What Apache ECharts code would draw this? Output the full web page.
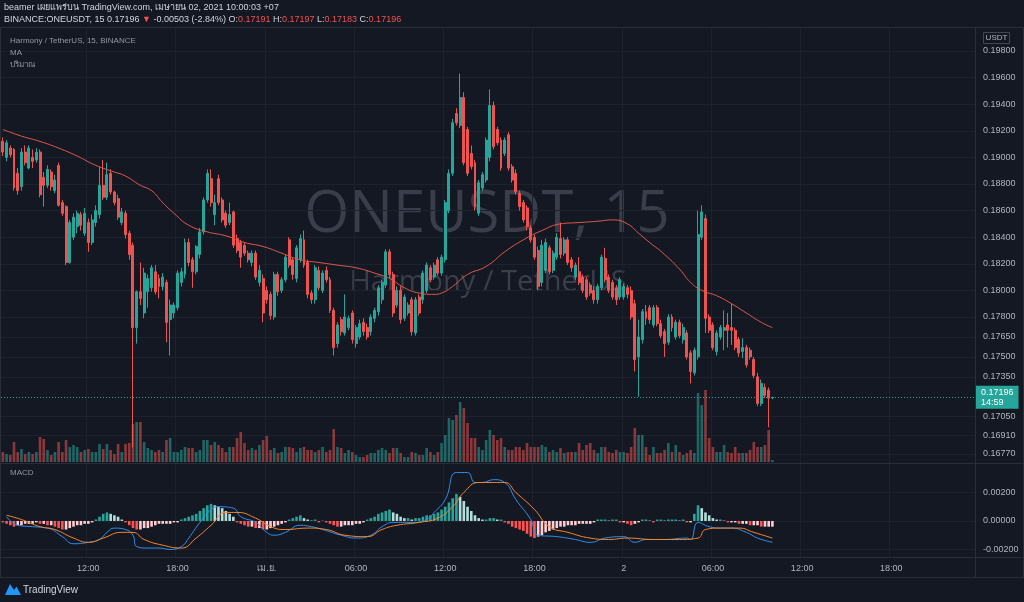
<!DOCTYPE html>
<html><head><meta charset="utf-8">
<script src="https://cdn.jsdelivr.net/npm/echarts@6/dist/echarts.min.js"></script>
<style>html,body{margin:0;padding:0;background:#141823;}#c{width:1024px;height:602px;}</style>
</head><body><div id="c"></div>
<script>
// ---------- DATA ----------
// 15-minute slots starting 2021-03-31 06:15 (UTC+7 exchange display time)
const slotStartUTC = Date.UTC(2021, 2, 31, 6, 15);
const slotCount = 262;
const timeLabels = {
  '03-31 12:00': '12:00', '03-31 18:00': '18:00', '04-01 00:00': 'เม.ย.',
  '04-01 06:00': '06:00', '04-01 12:00': '12:00', '04-01 18:00': '18:00',
  '04-02 00:00': '2', '04-02 06:00': '06:00', '04-02 12:00': '12:00', '04-02 18:00': '18:00'
};
// [open, close, low, high]
const ohlc = [
[0.1912,0.1904,0.1901,0.1915],[0.1900,0.1911,0.1897,0.1913],[0.1907,0.1902,0.1900,0.1909],[0.1906,0.1877,0.1875,0.1907],
[0.1888,0.1875,0.1872,0.1892],[0.1878,0.1904,0.1875,0.1907],[0.1904,0.1896,0.1894,0.1909],[0.1892,0.1907,0.1891,0.1909],
[0.1900,0.1897,0.1892,0.1906],[0.1898,0.1904,0.1896,0.1907],[0.1904,0.1872,0.1870,0.1906],[0.1885,0.1879,0.1863,0.1889],
[0.1879,0.1891,0.1877,0.1894],[0.1889,0.1878,0.1875,0.1891],[0.1875,0.1883,0.1873,0.1887],[0.1894,0.1864,0.1863,0.1896],
[0.1866,0.1858,0.1856,0.1868],[0.1863,0.1821,0.1819,0.1864],[0.1821,0.1851,0.1820,0.1853],[0.1840,0.1855,0.1838,0.1858],
[0.1848,0.1858,0.1843,0.1860],[0.1857,0.1849,0.1845,0.1859],[0.1843,0.1858,0.1841,0.1862],[0.1851,0.1836,0.1829,0.1854],
[0.1836,0.1853,0.1834,0.1857],[0.1851,0.1860,0.1848,0.1864],[0.1857,0.1879,0.1854,0.1893],[0.1879,0.1870,0.1868,0.1898],
[0.1870,0.1887,0.1868,0.1896],[0.1888,0.1874,0.1872,0.1891],[0.1874,0.1866,0.1864,0.1875],[0.1869,0.1855,0.1853,0.1872],
[0.1851,0.1859,0.1849,0.1862],[0.1858,0.1842,0.1839,0.1860],[0.1843,0.1827,0.1823,0.1845],[0.1834,0.1772,0.1682,0.1836],
[0.1772,0.1799,0.1760,0.1800],[0.1799,0.1794,0.1789,0.1821],[0.1783,0.1813,0.1779,0.1817],[0.1799,0.1809,0.1787,0.1812],
[0.1802,0.1817,0.1799,0.1819],[0.1814,0.1799,0.1797,0.1819],[0.1809,0.1803,0.1794,0.1812],[0.1803,0.1810,0.1800,0.1813],
[0.1806,0.1776,0.1761,0.1808],[0.1778,0.1789,0.1751,0.1793],[0.1783,0.1789,0.1779,0.1791],[0.1787,0.1813,0.1785,0.1815],
[0.1806,0.1814,0.1803,0.1817],[0.1812,0.1836,0.1809,0.1839],[0.1836,0.1821,0.1818,0.1839],[0.1823,0.1814,0.1802,0.1825],
[0.1814,0.1833,0.1812,0.1834],[0.1827,0.1844,0.1824,0.1847],[0.1844,0.1868,0.1842,0.1870],[0.1868,0.1888,0.1866,0.1891],
[0.1884,0.1866,0.1863,0.1891],[0.1857,0.1866,0.1849,0.1872],[0.1884,0.1866,0.1864,0.1887],[0.1868,0.1853,0.1851,0.1870],
[0.1858,0.1849,0.1847,0.1860],[0.1851,0.1857,0.1849,0.1866],[0.1859,0.1834,0.1832,0.1860],[0.1839,0.1830,0.1828,0.1842],
[0.1836,0.1825,0.1817,0.1838],[0.1834,0.1828,0.1826,0.1836],[0.1828,0.1823,0.1821,0.1830],[0.1821,0.1828,0.1818,0.1830],
[0.1828,0.1810,0.1808,0.1830],[0.1806,0.1815,0.1803,0.1819],[0.1809,0.1783,0.1776,0.1812],[0.1800,0.1793,0.1790,0.1803],
[0.1797,0.1781,0.1778,0.1799],[0.1780,0.1812,0.1778,0.1814],[0.1812,0.1799,0.1796,0.1814],[0.1800,0.1808,0.1798,0.1810],
[0.1808,0.1825,0.1806,0.1827],[0.1838,0.1819,0.1817,0.1840],[0.1823,0.1812,0.1808,0.1825],[0.1809,0.1832,0.1806,0.1834],
[0.1823,0.1839,0.1821,0.1842],[0.1838,0.1819,0.1817,0.1845],[0.1821,0.1797,0.1794,0.1823],[0.1798,0.1793,0.1790,0.1800],
[0.1793,0.1817,0.1790,0.1819],[0.1815,0.1802,0.1800,0.1818],[0.1800,0.1813,0.1798,0.1815],[0.1815,0.1808,0.1806,0.1818],
[0.1808,0.1785,0.1783,0.1810],[0.1785,0.1757,0.1751,0.1787],[0.1760,0.1774,0.1757,0.1776],[0.1778,0.1769,0.1766,0.1780],
[0.1768,0.1780,0.1766,0.1797],[0.1772,0.1779,0.1770,0.1781],[0.1783,0.1763,0.1760,0.1785],[0.1760,0.1772,0.1757,0.1774],
[0.1765,0.1775,0.1763,0.1778],[0.1776,0.1769,0.1766,0.1779],[0.1772,0.1765,0.1763,0.1775],[0.1769,0.1780,0.1766,0.1782],
[0.1779,0.1785,0.1776,0.1787],[0.1784,0.1802,0.1781,0.1804],[0.1793,0.1806,0.1790,0.1808],[0.1804,0.1829,0.1802,0.1831],
[0.1829,0.1812,0.1809,0.1831],[0.1812,0.1783,0.1780,0.1814],[0.1789,0.1800,0.1787,0.1803],[0.1800,0.1778,0.1775,0.1803],
[0.1779,0.1795,0.1777,0.1797],[0.1783,0.1789,0.1781,0.1791],[0.1793,0.1769,0.1766,0.1795],[0.1768,0.1793,0.1766,0.1795],
[0.1795,0.1783,0.1781,0.1797],[0.1793,0.1813,0.1790,0.1815],[0.1800,0.1819,0.1798,0.1821],[0.1817,0.1808,0.1806,0.1819],
[0.1810,0.1819,0.1808,0.1821],[0.1823,0.1813,0.1811,0.1825],[0.1813,0.1825,0.1811,0.1827],[0.1823,0.1866,0.1821,0.1868],
[0.1860,0.1888,0.1858,0.1891],[0.1888,0.1926,0.1886,0.1929],[0.1933,0.1926,0.1924,0.1937],[0.1924,0.1945,0.1922,0.1963],
[0.1945,0.1896,0.1894,0.1949],[0.1921,0.1888,0.1886,0.1923],[0.1903,0.1893,0.1891,0.1909],[0.1896,0.1863,0.1860,0.1898],
[0.1858,0.1881,0.1856,0.1883],[0.1877,0.1887,0.1875,0.1889],[0.1883,0.1913,0.1881,0.1915],[0.1900,0.1939,0.1897,0.1951],
[0.1939,0.1908,0.1906,0.1942],[0.1921,0.1911,0.1909,0.1923],[0.1913,0.1892,0.1890,0.1915],[0.1903,0.1913,0.1901,0.1915],
[0.1917,0.1892,0.1890,0.1919],[0.1893,0.1883,0.1881,0.1895],[0.1888,0.1874,0.1872,0.1891],[0.1873,0.1863,0.1860,0.1875],
[0.1866,0.1853,0.1851,0.1868],[0.1862,0.1848,0.1845,0.1864],[0.1847,0.1838,0.1836,0.1849],[0.1840,0.1825,0.1823,0.1842],
[0.1830,0.1803,0.1800,0.1833],[0.1806,0.1834,0.1803,0.1838],[0.1815,0.1836,0.1813,0.1839],[0.1832,0.1814,0.1812,0.1834],
[0.1815,0.1828,0.1813,0.1830],[0.1825,0.1840,0.1823,0.1843],[0.1839,0.1827,0.1824,0.1851],[0.1828,0.1838,0.1826,0.1840],
[0.1838,0.1821,0.1819,0.1840],[0.1823,0.1817,0.1814,0.1825],[0.1810,0.1819,0.1808,0.1821],[0.1814,0.1806,0.1804,0.1825],
[0.1810,0.1800,0.1798,0.1812],[0.1808,0.1795,0.1793,0.1810],[0.1804,0.1798,0.1796,0.1806],[0.1800,0.1793,0.1790,0.1803],
[0.1793,0.1803,0.1790,0.1805],[0.1802,0.1825,0.1800,0.1827],[0.1824,0.1808,0.1806,0.1832],[0.1810,0.1800,0.1798,0.1812],
[0.1806,0.1795,0.1793,0.1808],[0.1802,0.1793,0.1789,0.1804],[0.1795,0.1808,0.1793,0.1810],[0.1795,0.1803,0.1793,0.1805],
[0.1802,0.1797,0.1794,0.1804],[0.1800,0.1780,0.1778,0.1803],[0.1790,0.1748,0.1739,0.1793],[0.1750,0.1765,0.1720,0.1778],
[0.1763,0.1784,0.1760,0.1786],[0.1784,0.1779,0.1774,0.1789],[0.1787,0.1778,0.1775,0.1789],[0.1774,0.1787,0.1772,0.1789],
[0.1787,0.1775,0.1773,0.1789],[0.1775,0.1766,0.1764,0.1778],[0.1769,0.1760,0.1750,0.1771],[0.1761,0.1780,0.1759,0.1782],
[0.1780,0.1772,0.1769,0.1782],[0.1765,0.1776,0.1763,0.1778],[0.1776,0.1766,0.1764,0.1778],[0.1763,0.1772,0.1760,0.1775],
[0.1768,0.1750,0.1748,0.1770],[0.1753,0.1739,0.1730,0.1755],[0.1738,0.1755,0.1736,0.1757],[0.1750,0.1842,0.1748,0.1860],
[0.1840,0.1859,0.1838,0.1864],[0.1854,0.1779,0.1768,0.1857],[0.1780,0.1770,0.1768,0.1782],[0.1774,0.1757,0.1755,0.1776],
[0.1754,0.1768,0.1751,0.1770],[0.1765,0.1772,0.1763,0.1774],[0.1770,0.1772,0.1755,0.1785],[0.1774,0.1770,0.1757,0.1783],
[0.1772,0.1770,0.1759,0.1790],[0.1770,0.1757,0.1755,0.1772],[0.1763,0.1753,0.1750,0.1765],[0.1754,0.1757,0.1749,0.1764],
[0.1757,0.1744,0.1742,0.1759],[0.1755,0.1750,0.1748,0.1757],[0.1748,0.1736,0.1734,0.1750],[0.1735,0.1715,0.1713,0.1738],
[0.1715,0.1730,0.1713,0.1733],[0.1727,0.1721,0.1719,0.1730],[0.1725,0.1719,0.1697,0.1727],[0.17191,0.17196,0.17183,0.17197]
];
// volume (million ONE)
const volume = [
1.0,0.8,0.7,2.0,1.0,1.3,0.8,1.0,0.8,1.0, 2.5,2.3,1.2,0.7,1.0,2.0,1.0,2.2,1.5,1.7,
1.5,1.0,1.2,1.3,1.0,1.0,1.8,1.3,1.8,1.2, 0.8,1.8,1.0,1.8,1.9,3.8,4.0,4.0,2.0,1.4,
1.2,1.0,1.2,1.0,2.2,2.4,1.0,1.0,1.2,1.5, 1.4,1.4,1.0,1.2,2.2,2.2,1.7,2.0,1.7,1.4,
1.0,1.5,1.5,2.4,3.0,1.9,1.2,1.4,1.2,1.7, 2.2,2.6,1.2,1.4,0.9,1.0,1.5,1.5,1.4,1.0,
1.4,1.5,1.2,1.2,1.0,1.2,1.5,1.0,1.2,3.3, 1.5,1.4,0.9,1.2,1.0,0.7,0.5,0.5,0.7,0.9,
0.9,1.2,1.4,1.2,0.9,1.4,1.4,0.9,0.5,0.5, 1.0,0.9,0.7,0.7,1.4,1.0,0.7,1.0,1.9,2.7,
4.4,4.2,4.7,6.0,5.4,3.9,2.4,2.4,1.5,1.2, 2.2,3.2,2.7,2.2,2.4,1.5,1.2,1.2,1.5,1.5,
1.2,1.9,1.5,1.5,1.5,1.7,1.5,1.0,1.2,1.0, 1.4,0.9,1.0,1.0,1.0,1.9,1.2,1.7,1.9,1.2,
0.9,1.5,1.5,1.0,0.9,1.2,1.0,1.0,0.9,1.5, 3.4,2.7,2.7,1.5,0.7,1.5,0.9,0.9,1.2,1.9,
1.0,1.7,1.0,0.7,0.9,1.2,0.9,6.9,5.7,7.2, 2.4,1.5,1.0,1.0,1.7,1.0,0.9,1.5,0.9,0.9,
0.9,1.2,2.0,1.5,1.5,1.7,3.2,0.2
];
// moving average (slot index, value)
const maIdx = [0,5,10,15,20,25,30,33,37,40,43,46,50,55,60,65,70,75,80,85,90,95,100,104,108,112,116,118,121,125,130,135,140,145,150,155,160,164,168,171,174,178,182,185,188,192,196,200,204,207];
const maVals = [0.1921,0.1916,0.1912,0.1907,0.1901,0.1894,0.1889,0.1886,0.1879,0.1875,0.1866,0.1858,0.1849,0.1844,0.1841,0.1836,0.1833,0.1828,0.1823,0.1821,0.1819,0.1817,0.1813,0.1809,0.1802,0.1798,0.1797,0.1798,0.1803,0.1812,0.1818,0.1829,0.1838,0.1845,0.1850,0.1851,0.1852,0.1853,0.1850,0.1843,0.1836,0.1827,0.1816,0.1806,0.1800,0.1796,0.1790,0.1783,0.1776,0.1772];
// MACD line
const macdIdx = [1,4,8,12,16,19,23,26,28,30,33,35,36,39,42,45,48,50,53,56,58,62,64,68,71,73,76,80,83,86,91,95,99,102,105,110,114,116,119,122,125,127,129,132,135,138,142,144,149,154,158,162,167,170,173,178,184,185,187,190,193,196,200,203,207];
const macdVals = [0.0003,-0.0003,-0.0004,-0.0005,-0.0011,-0.0016,-0.0015,-0.0013,-0.0008,-0.0005,-0.0006,-0.0010,-0.0018,-0.0019,-0.0019,-0.0020,-0.0018,-0.0012,-0.0001,0.0008,0.0010,0.0009,0.0003,-0.0001,-0.0008,-0.0010,-0.0008,-0.0003,-0.0004,-0.0006,-0.0010,-0.0012,-0.0010,-0.0004,-0.0001,-0.0001,0.0001,0.0006,0.0015,0.0034,0.0034,0.0027,0.0027,0.0029,0.0027,0.0015,0.0001,-0.0010,-0.0011,-0.0013,-0.0015,-0.0012,-0.0011,-0.0015,-0.0013,-0.0013,-0.0012,-0.0013,-0.0001,-0.0004,-0.0005,-0.0005,-0.0008,-0.0012,-0.0015];
// signal line
const sigIdx = [1,5,10,14,19,23,27,32,35,38,43,48,52,56,60,63,68,72,76,82,87,92,98,102,106,112,117,121,124,128,131,135,138,143,147,152,158,163,168,175,182,187,189,193,198,202,207];
const sigVals = [0.0004,0.0001,-0.0004,-0.0006,-0.0012,-0.0015,-0.0012,-0.0008,-0.0008,-0.0013,-0.0017,-0.0019,-0.0012,-0.0003,0.0006,0.0006,0.0002,-0.0004,-0.0006,-0.0005,-0.0006,-0.0010,-0.0011,-0.0006,-0.0003,-0.0001,0.0002,0.0010,0.0020,0.0027,0.0027,0.0027,0.0020,0.0008,-0.0004,-0.0008,-0.0012,-0.0013,-0.0012,-0.0013,-0.0013,-0.0012,-0.0006,-0.0005,-0.0005,-0.0008,-0.0012];
// MACD histogram
const hist = [
-0.0001,-0.0002,-0.0003,-0.0004,-0.0003,-0.0003,-0.0002,-0.0002,-0.0002,-0.0001,
-0.0002,-0.0002,-0.0003,-0.0003,-0.0004,-0.0005,-0.0006,-0.0006,-0.0005,-0.0004,
-0.0003,-0.0003,-0.0002,-0.0002,-0.0001,0.0001,0.0003,0.0005,0.0006,0.0005,
0.0004,0.0003,0.0001,-0.0001,-0.0003,-0.0005,-0.0006,-0.0006,-0.0005,-0.0005,
-0.0004,-0.0003,-0.0002,-0.0002,-0.0002,-0.0002,-0.0001,-0.0001,0.0001,0.0002,
0.0003,0.0004,0.0005,0.0007,0.0009,0.0011,0.0012,0.0011,0.0010,0.0009,
0.0007,0.0005,0.0003,-0.0001,-0.0002,-0.0003,-0.0004,-0.0004,-0.0005,-0.0005,
-0.0006,-0.0006,-0.0005,-0.0004,-0.0003,-0.0002,-0.0001,0.0001,0.0002,0.0003,
0.0004,0.0002,0.0001,0.00003,0.0001,-0.0001,0.00003,-0.0001,-0.0002,-0.0003,
-0.0004,-0.0004,-0.0003,-0.0003,-0.0003,-0.0002,-0.0002,-0.0001,0.0001,0.0002,
0.0003,0.0005,0.0006,0.0007,0.0008,0.0006,0.0005,0.0003,0.0002,0.0002,
0.0001,0.0002,0.0002,0.0003,0.0004,0.0004,0.0005,0.0006,0.0008,0.0010,
0.0013,0.0016,0.0019,0.0017,0.0014,0.0010,0.0007,0.0004,0.0002,0.0001,
0.0001,0.0002,0.0002,0.0001,0.0001,-0.0001,-0.0002,-0.0004,-0.0005,-0.0006,
-0.0007,-0.0009,-0.0011,-0.0012,-0.0011,-0.0010,-0.0008,-0.0007,-0.0006,-0.0005,
-0.0004,-0.0004,-0.0003,-0.0003,-0.0003,-0.0002,-0.0002,-0.0002,-0.0002,-0.0001,
0.0001,0.0001,0.0001,0.00003,0.0001,0.0001,-0.0001,-0.0001,-0.0002,-0.0003,
-0.0002,-0.0001,0.0001,0.0001,0.00003,-0.0001,0.0001,0.0001,0.00003,0.0001,
0.0001,0.0001,0.00003,0.0001,-0.0001,-0.0001,0.0005,0.0011,0.0009,0.0006,
0.0004,0.0002,0.0001,0.0001,0.00003,-0.0001,-0.0001,-0.0001,-0.0002,-0.0002,
-0.0002,-0.0003,-0.0003,-0.0003,-0.0004,-0.0004,-0.0004,-0.0004
];
const priceTicks = [0.198,0.196,0.194,0.192,0.190,0.188,0.186,0.184,0.182,0.180,0.178,0.1765,0.175,0.1735,0.1705,0.1691,0.1677];
const macdTicks = [-0.002, 0, 0.002];
const countdown = '14:59';
const header1 = 'beamer เผยแพร่บน TradingView.com, เมษายน 02, 2021 10:00:03 +07';
const quote = {sym:'BINANCE:ONEUSDT, 15', last:'0.17196', chg:'-0.00503 (-2.84%)', o:'0.17191', h:'0.17197', l:'0.17183', c:'0.17196'};

// ---------- BUILD ----------
const pad = n => String(n).padStart(2, '0');
const cats = [];
for (let i = 0; i < slotCount; i++) {
  const d = new Date(slotStartUTC + i * 900000);
  cats.push(pad(d.getUTCMonth() + 1) + '-' + pad(d.getUTCDate()) + ' ' + pad(d.getUTCHours()) + ':' + pad(d.getUTCMinutes()));
}
const UP = '#26a69a', DOWN = '#ef5350';
const volData = volume.map((v, i) => ({value: v, itemStyle: {color: ohlc[i][1] >= ohlc[i][0] ? 'rgba(38,166,154,0.55)' : 'rgba(239,83,80,0.55)'}}));
const histData = hist.map((v, i) => {
  const p = i > 0 ? hist[i - 1] : 0;
  let c;
  if (v >= 0) c = v >= p ? '#26a69a' : '#b2dfdb'; else c = v < p ? '#ff5252' : '#ffcdd2';
  return {value: v, itemStyle: {color: c}};
});
const maData = maIdx.map((k, j) => [cats[k], maVals[j]]);
const macdData = macdIdx.map((k, j) => [cats[k], macdVals[j]]);
const sigData = sigIdx.map((k, j) => [cats[k], sigVals[j]]);
const lastClose = ohlc[ohlc.length - 1][1];

const FONT = '"Liberation Sans", "Noto Sans", sans-serif';
const GRIDC = '#1e222d';
const SEP = '#2a2e39';
const showTime = (i, v) => !!timeLabels[v];

const chart = echarts.init(document.getElementById('c'), null, {renderer: 'canvas'});
chart.setOption({
  backgroundColor: '#141823',
  animation: false,
  textStyle: {fontFamily: FONT},
  grid: [
    {left: 1, right: 49, top: 28, height: 435},
    {left: 1, right: 49, top: 362, height: 100},
    {left: 1, right: 49, top: 464, height: 93}
  ],
  xAxis: [
    {type: 'category', gridIndex: 0, data: cats, axisLine: {show: false}, axisTick: {show: false}, axisLabel: {show: false},
     splitLine: {show: true, interval: showTime, lineStyle: {color: GRIDC}}},
    {type: 'category', gridIndex: 1, data: cats, show: false},
    {type: 'category', gridIndex: 2, data: cats, axisLine: {show: false}, axisTick: {show: false},
     axisLabel: {interval: showTime, formatter: v => timeLabels[v] || '', color: '#b2b5be', fontSize: 9, margin: 7},
     splitLine: {show: true, interval: showTime, lineStyle: {color: GRIDC}}}
  ],
  yAxis: [
    {type: 'value', gridIndex: 0, position: 'right', min: 0.16702, max: 0.19973,
     axisLine: {show: false}, axisTick: {show: false, customValues: priceTicks},
     axisLabel: {customValues: priceTicks, formatter: v => v.toFixed(5), color: '#b2b5be', fontSize: 9, margin: 8},
     splitLine: {show: true, lineStyle: {color: GRIDC}}},
    {type: 'value', gridIndex: 1, min: 0, max: 10, show: false, splitLine: {show: false}},
    {type: 'value', gridIndex: 2, position: 'right', min: -0.00253, max: 0.0040,
     axisLine: {show: false}, axisTick: {show: false, customValues: macdTicks},
     axisLabel: {customValues: macdTicks, formatter: v => v.toFixed(5), color: '#b2b5be', fontSize: 9, margin: 8},
     splitLine: {show: true, lineStyle: {color: GRIDC}}}
  ],
  series: [
    {type: 'bar', name: 'Volume', xAxisIndex: 1, yAxisIndex: 1, data: volData, barWidth: '70%', z: 1, silent: true},
    {type: 'candlestick', name: 'ONEUSDT', xAxisIndex: 0, yAxisIndex: 0, data: ohlc, barWidth: '66%', z: 3,
     itemStyle: {color: UP, color0: DOWN, borderColor: UP, borderColor0: DOWN, borderWidth: 1},
     markLine: {symbol: ['none', 'none'], silent: true, animation: false, precision: 5,
       lineStyle: {color: '#26a69a', type: [1, 2], width: 1},
       label: {show: true, position: 'end', distance: 1, formatter: p => Number(p.value).toFixed(5) + '\n' + countdown,
         backgroundColor: '#26a69a', color: '#ffffff', fontSize: 9, lineHeight: 10, padding: [2, 5, 1, 5]},
       data: [{yAxis: lastClose}]}},
    {type: 'line', name: 'MA', xAxisIndex: 0, yAxisIndex: 0, data: maData, showSymbol: false, smooth: true, z: 4,
     lineStyle: {color: '#e0584c', width: 1}},
    {type: 'bar', name: 'Histogram', xAxisIndex: 2, yAxisIndex: 2, data: histData, barWidth: '70%', z: 2},
    {type: 'line', name: 'MACD', xAxisIndex: 2, yAxisIndex: 2, data: macdData, showSymbol: false, smooth: true, z: 4,
     lineStyle: {color: '#2f8ff0', width: 1}},
    {type: 'line', name: 'Signal', xAxisIndex: 2, yAxisIndex: 2, data: sigData, showSymbol: false, smooth: true, z: 4,
     lineStyle: {color: '#f7862b', width: 1}}
  ],
  graphic: {elements: [
    {type: 'text', x: 487, y: 215, z: -1, silent: true, style: {text: 'ONEUSDT, 15', align: 'center', verticalAlign: 'middle', fill: '#3a3e4a', font: '58px "Open Sans", sans-serif'}},
    {type: 'text', x: 488, y: 283, z: -1, silent: true, style: {text: 'Harmony / TetherUS', align: 'center', verticalAlign: 'middle', fill: '#3a3e4a', font: '29px "Open Sans", sans-serif'}},
    {type: 'rect', z: 50, silent: true, shape: {x: 0.5, y: 27.5, width: 1023, height: 550}, style: {fill: null, stroke: SEP, lineWidth: 1}},
    {type: 'line', z: 50, silent: true, shape: {x1: 975.5, y1: 28, x2: 975.5, y2: 577}, style: {stroke: SEP, lineWidth: 1}},
    {type: 'line', z: 50, silent: true, shape: {x1: 0, y1: 463.5, x2: 1024, y2: 463.5}, style: {stroke: SEP, lineWidth: 1}},
    {type: 'line', z: 50, silent: true, shape: {x1: 0, y1: 557.5, x2: 1024, y2: 557.5}, style: {stroke: SEP, lineWidth: 1}},
    {type: 'text', x: 4, y: 8, z: 60, style: {text: header1, verticalAlign: 'middle', fill: '#d1d4dc', font: '9px ' + FONT}},
    {type: 'text', x: 4, y: 20, z: 60, style: {
      text: '{w|' + quote.sym + ' ' + quote.last + ' }{r|▼}{w| ' + quote.chg + ' O:}{r|' + quote.o + '}{w| H:}{r|' + quote.h + '}{w| L:}{r|' + quote.l + '}{w| C:}{r|' + quote.c + '}',
      verticalAlign: 'middle', font: '9px ' + FONT,
      rich: {w: {fill: '#d1d4dc', fontSize: 9, fontFamily: FONT}, r: {fill: '#ef5350', fontSize: 9, fontFamily: FONT}}}},
    {type: 'text', x: 10, y: 41, z: 60, style: {text: 'Harmony / TetherUS, 15, BINANCE', verticalAlign: 'middle', fill: '#9598a1', font: '8px ' + FONT}},
    {type: 'text', x: 10, y: 53, z: 60, style: {text: 'MA', verticalAlign: 'middle', fill: '#9598a1', font: '8px ' + FONT}},
    {type: 'text', x: 10, y: 65, z: 60, style: {text: 'ปริมาณ', verticalAlign: 'middle', fill: '#9598a1', font: '8px ' + FONT}},
    {type: 'text', x: 10, y: 473, z: 60, style: {text: 'MACD', verticalAlign: 'middle', fill: '#9598a1', font: '8px ' + FONT}},
    {type: 'rect', z: 60, shape: {x: 983.5, y: 32.5, width: 26, height: 11}, style: {fill: '#141823', stroke: '#434651', lineWidth: 1}},
    {type: 'text', x: 996.5, y: 38, z: 61, style: {text: 'USDT', align: 'center', verticalAlign: 'middle', fill: '#b2b5be', font: '8px ' + FONT}},
    {type: 'polygon', z: 60, shape: {points: [[5, 595], [10, 584], [14, 590], [16.5, 586.5], [21, 595]]}, style: {fill: '#2196f3'}},
    {type: 'text', x: 23, y: 590, z: 60, style: {text: 'TradingView', verticalAlign: 'middle', fill: '#d1d4dc', font: '10px ' + FONT}}
  ]}
});
</script>
</body></html>
